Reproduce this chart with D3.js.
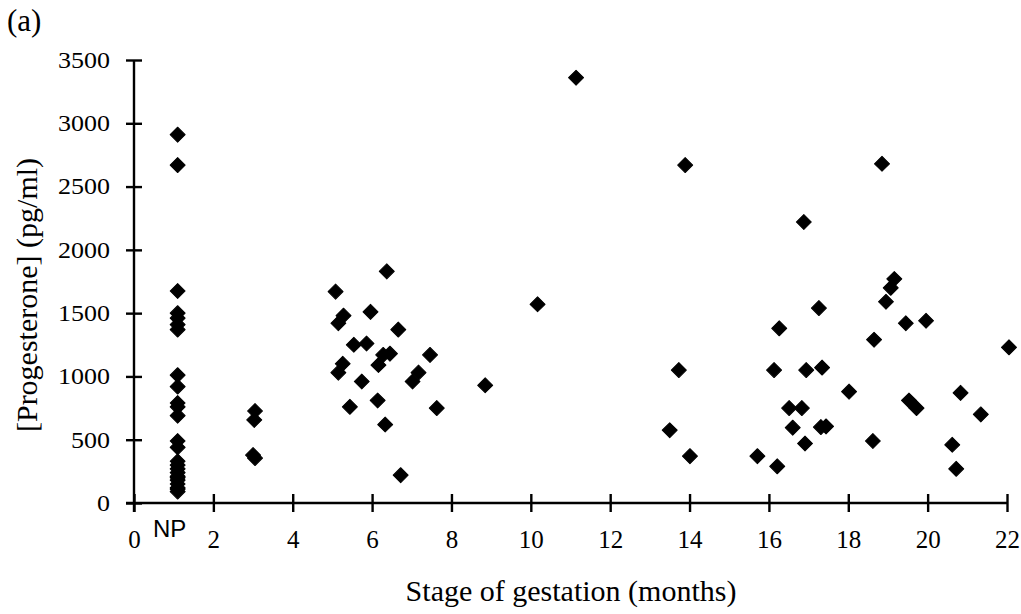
<!DOCTYPE html>
<html><head><meta charset="utf-8">
<script src="https://cdn.jsdelivr.net/npm/d3@7/dist/d3.min.js"></script>
<style>body{margin:0;background:#fff}svg{display:block}</style>
</head><body>
<svg id="c" width="1021" height="614"></svg>
<script>
const xTicks = [0,2,4,6,8,10,12,14,16,18,20,22];
const yTicks = [0,500,1000,1500,2000,2500,3000,3500];
const months = [
  1.1,1.1,1.1,1.1,1.1,1.1,1.1,1.1,1.1,1.1,1.1,1.1,1.1,1.1,1.1,1.1,1.1,1.1,1.1,1.1,1.1,1.1,1.1,1.1,1.1,
  3.05,3.03,3.0,3.05,
  6.37,5.08,5.28,5.15,5.96,6.66,5.54,5.86,6.28,6.45,6.16,5.26,5.15,7.46,7.17,7.02,5.74,5.44,6.14,7.63,6.33,6.72,8.85,
  10.17,11.14,
  13.89,13.73,13.5,14.01,
  16.88,17.26,16.26,18.65,16.13,16.94,17.34,18.02,16.51,16.83,16.6,17.31,17.44,16.91,18.62,15.71,16.21,
  19.16,19.07,18.95,19.45,19.96,22.05,19.53,19.72,20.83,21.34,20.62,20.72,18.85
];
const progesterone = [
  2910,2670,1675,1500,1460,1410,1370,1010,920,790,760,690,490,440,300,270,240,210,180,150,120,90,330,200,110,
  727,656,379,355,
  1830,1670,1480,1420,1510,1370,1250,1260,1170,1180,1090,1100,1030,1170,1030,960,960,760,810,750,620,220,930,
  1570,3360,
  2670,1050,575,370,
  2220,1540,1380,1290,1050,1050,1070,880,750,750,595,600,605,470,490,370,290,
  1770,1700,1590,1420,1440,1230,810,750,870,700,460,270,2680
];
const svg = d3.select("#c");
const x = d3.scaleLinear().domain([0,22]).range([134,1007]);
const y = d3.scaleLinear().domain([0,3500]).range([503,60]);
const serif = "'Liberation Serif','Times New Roman',serif";

const gx = svg.append("g").attr("transform",`translate(0,${y(0)})`)
  .call(d3.axisBottom(x).tickValues(xTicks).tickFormat(d3.format("d")).tickSize(9).tickSizeOuter(0).tickPadding(31));
gx.select(".domain").attr("d",`M${x(0)-8},0H${x(22)}`).attr("stroke","#000").attr("stroke-width",2.4);
gx.selectAll(".tick line").attr("y1",-9).attr("y2",9).attr("stroke","#000").attr("stroke-width",2.4);
gx.selectAll(".tick text").attr("font-family",serif).attr("font-size",25).attr("fill","#000").attr("dy","0.2em");

const gy = svg.append("g").attr("transform",`translate(${x(0)},0)`)
  .call(d3.axisLeft(y).tickValues(yTicks).tickFormat(d3.format("d")).tickSize(8).tickSizeOuter(0).tickPadding(16));
gy.select(".domain").attr("d",`M0,${y(0)+9}V${y(3500)}`).attr("stroke","#000").attr("stroke-width",2.4);
gy.selectAll(".tick line").attr("x1",-8).attr("x2",8).attr("stroke","#000").attr("stroke-width",2.4);
gy.selectAll(".tick text").attr("font-family",serif).attr("font-size",23).attr("fill","#000")
  .attr("textLength", function(){ return 13*this.textContent.length; })
  .attr("lengthAdjust","spacingAndGlyphs");

const data = months.map((m,i)=>({m, v: progesterone[i]}));
const sym = d3.symbol().type(d3.symbolSquare).size(112);
svg.append("g").selectAll("path").data(data).join("path")
  .attr("d", sym)
  .attr("transform", d=>`translate(${x(d.m)},${y(d.v)}) rotate(45)`)
  .attr("fill","#000").attr("stroke","#000").attr("stroke-width",1).attr("stroke-linejoin","round");

svg.append("text").attr("x",x(0.9)).attr("y",537).attr("text-anchor","middle")
  .attr("font-family","'Liberation Sans',Arial,sans-serif").attr("font-size",24).text("NP");

svg.append("text").attr("x",571).attr("y",601).attr("text-anchor","middle")
  .attr("font-family",serif).attr("font-size",30).text("Stage of gestation (months)");
svg.append("text").attr("transform","translate(37,295) rotate(-90)").attr("text-anchor","middle")
  .attr("font-family",serif).attr("font-size",30).text("[Progesterone] (pg/ml)");
svg.append("text").attr("x",7).attr("y",31)
  .attr("font-family",serif).attr("font-size",31).text("(a)");
</script>
</body></html>
